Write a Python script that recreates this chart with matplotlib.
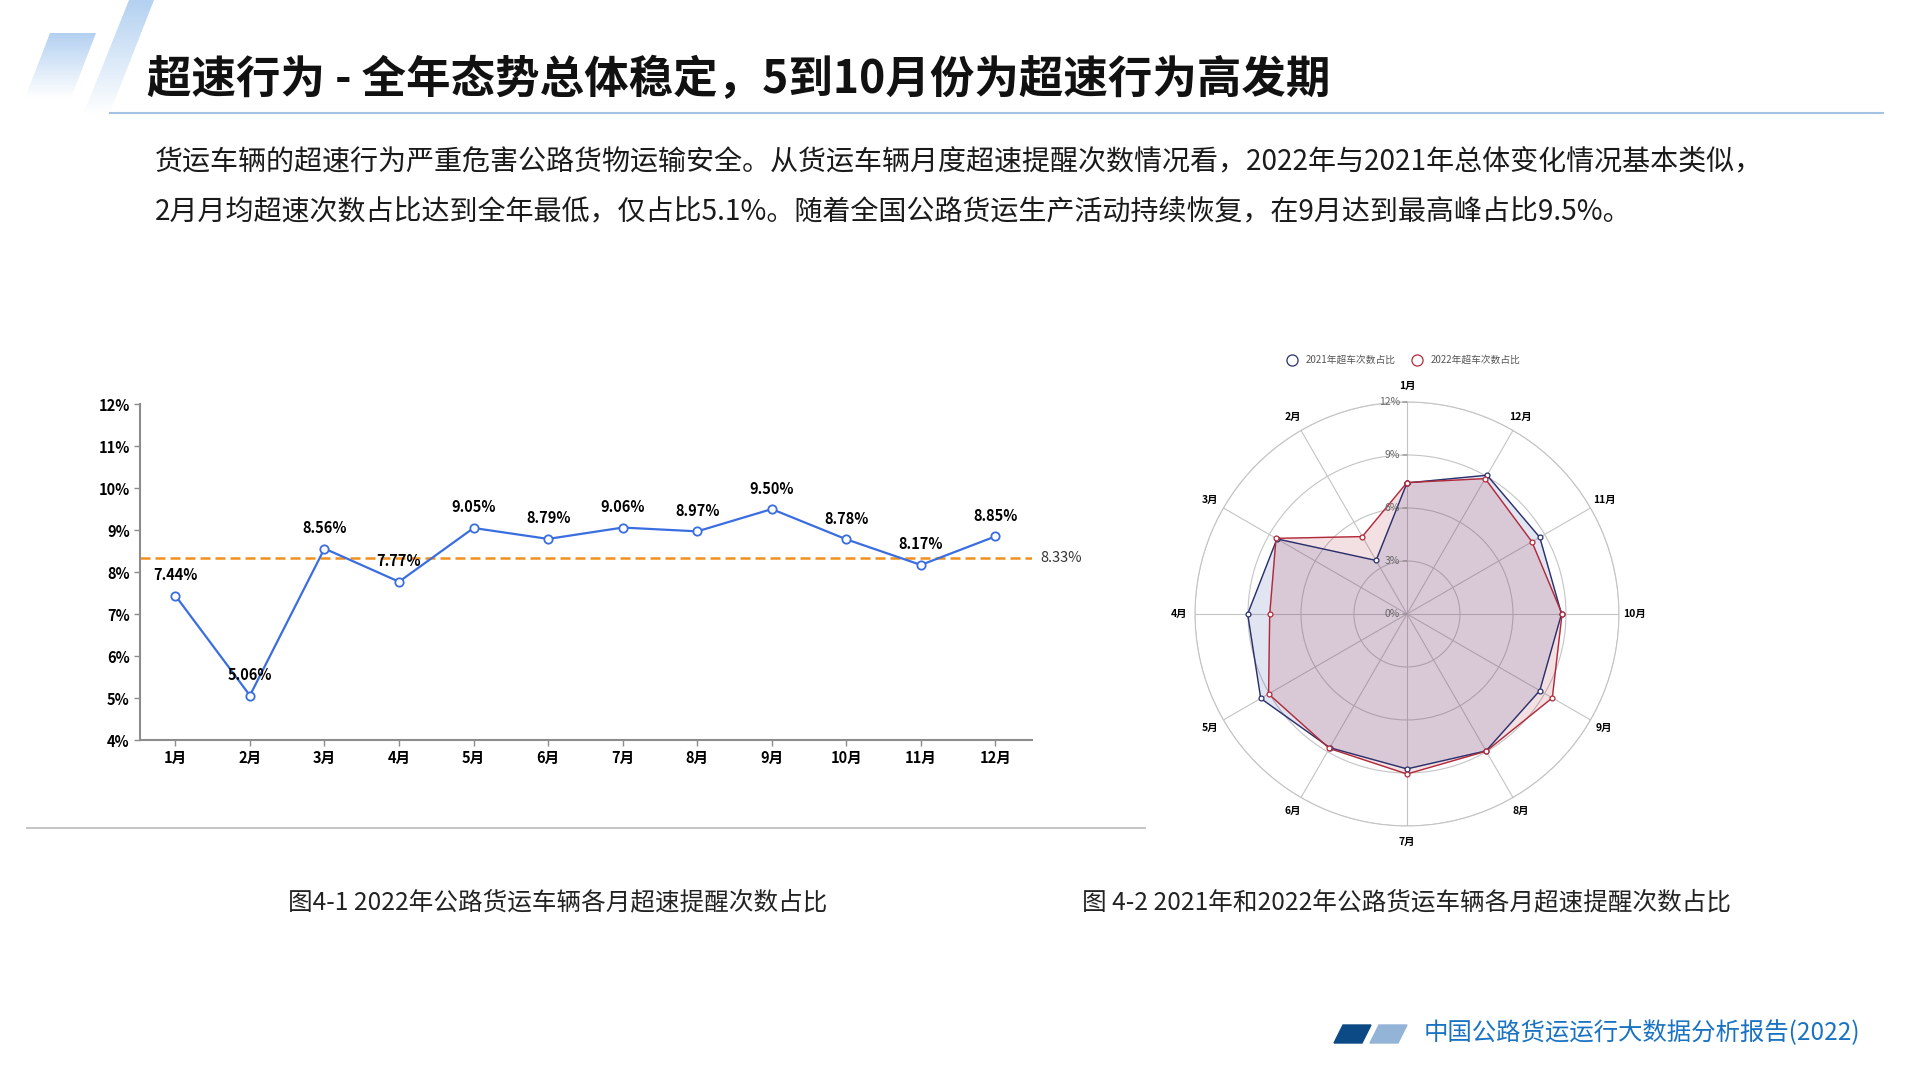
import numpy as np
import matplotlib
matplotlib.use('Agg')
import matplotlib.pyplot as plt
from matplotlib.patches import Polygon

plt.rcParams['font.family'] = ['Noto Sans CJK SC', 'DejaVu Sans']

# chart data
months = ['1月', '2月', '3月', '4月', '5月', '6月', '7月', '8月', '9月', '10月', '11月', '12月']
share_2022 = [7.44, 5.06, 8.56, 7.77, 9.05, 8.79, 9.06, 8.97, 9.50, 8.78, 8.17, 8.85]
share_2021 = [7.42, 3.50, 8.50, 9.02, 9.56, 8.74, 8.77, 8.95, 8.68, 8.75, 8.68, 9.07]
avg_2022 = 8.33
y_ticks = [4, 5, 6, 7, 8, 9, 10, 11, 12]
radar_rings = [3, 6, 9, 12]
radar_labels = [0, 3, 6, 9, 12]

title = '超速行为 - 全年态势总体稳定，5到10月份为超速行为高发期'
para_1 = '货运车辆的超速行为严重危害公路货物运输安全。从货运车辆月度超速提醒次数情况看，2022年与2021年总体变化情况基本类似，'
para_2 = '2月月均超速次数占比达到全年最低，仅占比5.1%。随着全国公路货运生产活动持续恢复，在9月达到最高峰占比9.5%。'
caption_1 = '图4-1 2022年公路货运车辆各月超速提醒次数占比'
caption_2 = '图 4-2 2021年和2022年公路货运车辆各月超速提醒次数占比'
legend_names = ['2021年超车次数占比', '2022年超车次数占比']
footer = '中国公路货运运行大数据分析报告(2022)'

fig = plt.figure(figsize=(19.2, 10.8), dpi=100)

# background layer in pixel coordinates
bg = fig.add_axes([0, 0, 1, 1])
bg.set_xlim(0, 1920)
bg.set_ylim(1080, 0)
bg.axis('off')

# logo: two slanted bars with blue-to-white gradient
grad = np.linspace(0, 1, 100).reshape(-1, 1)
cmap = matplotlib.colors.LinearSegmentedColormap.from_list('logo', ['#b4d1f1', '#ffffff'])
for pts in ([(50, 33), (96, 33), (71, 98), (25, 98)],
            [(129, 0), (154, 0), (109, 115), (83, 115)]):
    poly = Polygon(pts, closed=True, facecolor='none', edgecolor='none')
    bg.add_patch(poly)
    xs = [p[0] for p in pts]
    ys = [p[1] for p in pts]
    im = bg.imshow(grad, cmap=cmap, aspect='auto',
                   extent=(min(xs), max(xs), max(ys), min(ys)), zorder=1)
    im.set_clip_path(poly)
bg.plot([110, 1883], [113, 113], color='#a4c2e4', lw=1.5)

bg.text(147, 80, title, fontsize=32, fontweight='bold', va='center', ha='left', color='#111111')
bg.text(155, 162, para_1, fontsize=20.2, va='center', ha='left', color='#1a1a1a')
bg.text(155, 212, para_2, fontsize=20.2, va='center', ha='left', color='#1a1a1a')

bg.plot([27, 1145], [828, 828], color='#c0c0c0', lw=1.3)
bg.text(558, 902, caption_1, fontsize=17.7, va='center', ha='center', color='#222222')
bg.text(1406, 902, caption_2, fontsize=17.7, va='center', ha='center', color='#222222')

# footer
bg.add_patch(Polygon([(1343, 1025), (1371, 1025), (1362, 1043), (1334, 1043)], color='#0b4a85'))
bg.add_patch(Polygon([(1379, 1025), (1407, 1025), (1398, 1043), (1370, 1043)], color='#93b4d6'))
bg.text(1424, 1033, footer, fontsize=17.6, va='center', ha='left', color='#1a73c2')

# legend of the radar chart
bg.plot(1292, 360, 'o', ms=8, mfc='white', mec='#2a2f6b', mew=0.9)
bg.text(1306, 360, legend_names[0], fontsize=7, va='center', ha='left', color='#555555')
bg.plot(1417, 360, 'o', ms=8, mfc='white', mec='#b22a3a', mew=0.9)
bg.text(1431, 360, legend_names[1], fontsize=7, va='center', ha='left', color='#555555')

# line chart
ax = fig.add_axes([0.0727, 0.3148, 0.4648, 0.311])
x = np.arange(1, 13)
ax.plot(x, share_2022, color='#3a6ee0', lw=1.6, marker='o', ms=6,
        mfc='white', mec='#3a6ee0', mew=1.3, zorder=3)
ax.axhline(avg_2022, color='#f0901e', ls=(0, (4, 2)), lw=1.8, zorder=2)
ax.text(1.009, avg_2022, f'{avg_2022:.2f}%', transform=ax.get_yaxis_transform(),
        ha='left', va='center', fontsize=10.5, color='#333333')
for xi, v in zip(x, share_2022):
    ax.annotate(f'{v:.2f}%', (xi, v), xytext=(0, 9), textcoords='offset points',
                ha='center', va='bottom', fontsize=10.5, fontweight='bold', zorder=4)
ax.set_xlim(0.52, 12.49)
ax.set_ylim(4, 12)
ax.set_xticks(x)
ax.set_xticklabels(months, fontsize=10.5, fontweight='bold')
ax.set_yticks(y_ticks)
ax.set_yticklabels([f'{t}%' for t in y_ticks], fontsize=10.5, fontweight='bold')
for s in ['top', 'right']:
    ax.spines[s].set_visible(False)
for s in ['left', 'bottom']:
    ax.spines[s].set_color('#8c8c8c')
    ax.spines[s].set_linewidth(1.5)
ax.tick_params(axis='both', length=4, width=1, color='#8c8c8c', pad=3)
ax.patch.set_alpha(0)

# radar chart
ar = fig.add_axes([0.6224, 0.2352, 0.2208, 0.3926], projection='polar')
ar.set_theta_offset(np.pi / 2)
ar.set_theta_direction(1)
theta = np.arange(12) * 2 * np.pi / 12
tc = np.append(theta, theta[0])
v21 = np.append(share_2021, share_2021[0])
v22 = np.append(share_2022, share_2022[0])
ar.fill(tc, v21, color='#4a5aa8', alpha=0.16, zorder=2)
ar.plot(tc, v21, color='#2a2f6b', lw=1, marker='o', ms=3.5, mfc='white', mec='#2a2f6b', mew=0.9, zorder=3)
ar.fill(tc, v22, color='#b03040', alpha=0.15, zorder=2)
ar.plot(tc, v22, color='#b22a3a', lw=1, marker='o', ms=3.5, mfc='white', mec='#b22a3a', mew=0.9, zorder=3)
ar.set_ylim(0, 12)
ar.set_xticks(theta)
ar.set_xticklabels([])
ar.set_yticks(radar_rings)
ar.set_yticklabels([])
ar.grid(color='#c4c4c4', lw=0.8)
ar.spines['polar'].set_color('#c4c4c4')
ar.spines['polar'].set_linewidth(0.8)
ar.patch.set_alpha(0)
for t, m in zip(theta, months):
    ar.text(t, 12.9, m, ha='center', va='center', fontsize=7.5, fontweight='bold')
for v in radar_labels:
    ar.annotate(f'{v}%', xy=(0, v), xytext=(-5, 0), textcoords='offset points',
                ha='right', va='center', fontsize=7.5, color='#666666',
                arrowprops=dict(arrowstyle='-', color='#888888', lw=0.8,
                                shrinkA=0, shrinkB=0, relpos=(1, 0.5)))

fig.savefig('out.png', dpi=100)
